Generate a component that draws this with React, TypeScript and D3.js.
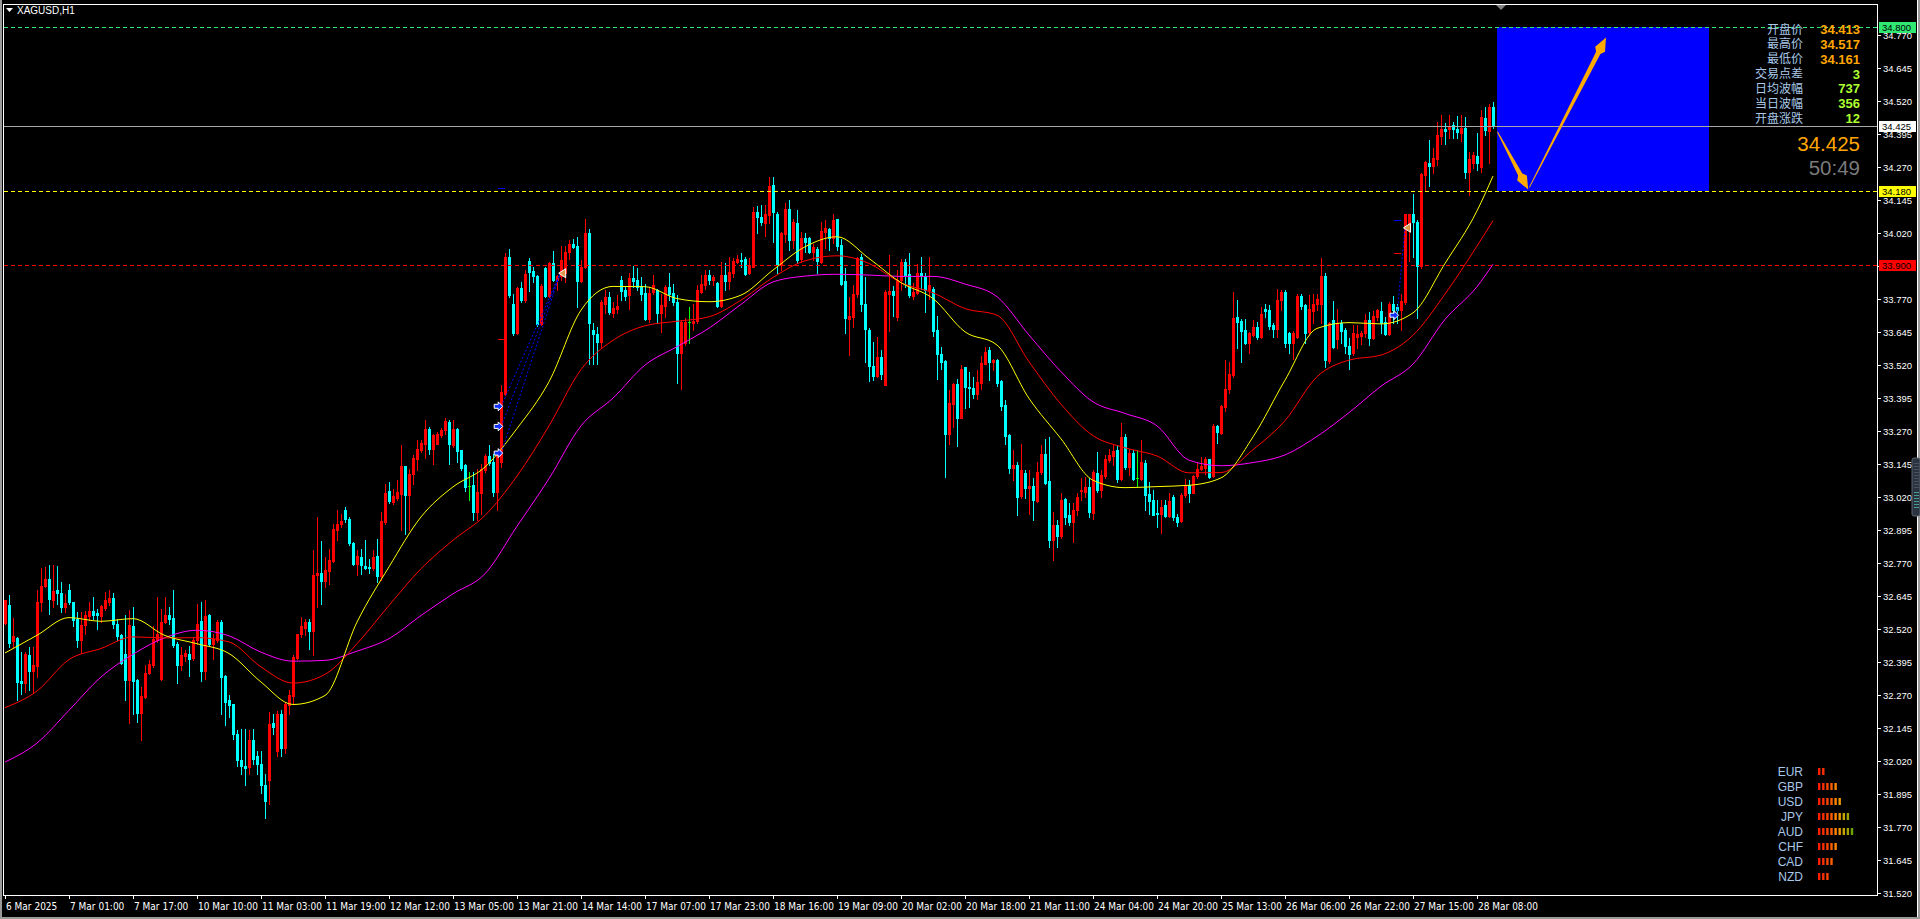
import React from "react";
import * as d3 from "d3";

// ---------- OHLC (XAGUSD H1), bar 0 .. 372 ----------
const opens = [
32.544,32.611,32.476,32.488,32.323,32.317,32.421,32.362,32.380,32.622,
32.685,32.712,32.630,32.667,32.657,32.604,32.668,32.622,32.560,32.478,
32.535,32.569,32.588,32.580,32.569,32.601,32.623,32.637,32.541,32.497,
32.428,32.329,32.531,32.327,32.203,32.263,32.354,32.383,32.478,32.333,
32.548,32.573,32.561,32.463,32.383,32.419,32.425,32.410,32.478,32.550,
32.362,32.573,32.463,32.481,32.546,32.342,32.251,32.236,32.124,32.026,
32.003,31.998,32.102,32.039,32.008,31.930,31.950,32.165,32.060,32.200,
32.070,32.232,32.266,32.412,32.500,32.526,32.547,32.513,32.724,32.733,
32.702,32.740,32.778,32.897,32.917,32.973,32.939,32.846,32.768,32.793,
32.759,32.756,32.753,32.796,32.720,32.926,33.043,33.000,33.018,33.033,
33.137,33.027,33.107,33.166,33.198,33.223,33.277,33.204,33.223,33.254,
33.273,33.305,33.217,33.277,33.198,33.141,33.062,33.065,32.964,33.036,
33.122,33.175,33.153,33.040,33.153,33.412,33.928,33.751,33.640,33.813,
33.766,33.914,33.876,33.857,33.675,33.886,33.781,33.907,33.842,33.857,
33.867,33.949,33.978,33.971,33.839,33.890,34.019,33.652,33.637,33.608,
33.753,33.779,33.718,33.731,33.842,33.804,33.785,33.848,33.844,33.819,
33.794,33.693,33.798,33.804,33.718,33.743,33.817,33.794,33.760,33.566,
33.602,33.683,33.678,33.687,33.798,33.823,33.861,33.842,33.832,33.745,
33.861,33.839,33.870,33.911,33.918,33.920,33.867,33.892,34.101,34.079,
34.059,34.088,34.202,34.094,33.899,34.016,34.113,33.993,34.057,33.920,
34.003,34.000,33.949,33.958,33.911,34.025,34.034,34.003,34.072,33.974,
33.838,33.693,33.703,33.791,33.928,33.753,33.652,33.516,33.478,33.549,
33.444,33.791,33.801,33.703,33.842,33.911,33.865,33.781,33.794,33.867,
33.857,33.806,33.810,33.652,33.561,33.535,33.258,33.374,33.448,33.321,
33.511,33.438,33.435,33.410,33.453,33.526,33.577,33.532,33.539,33.460,
33.368,33.255,33.132,33.141,33.024,33.112,33.053,33.061,33.006,33.116,
33.185,33.082,32.859,32.914,32.872,33.013,32.952,32.926,32.971,33.043,
33.040,33.059,32.960,33.112,33.049,33.101,33.160,33.176,33.198,33.088,
33.248,33.135,33.188,33.093,33.087,33.150,33.031,33.011,32.960,32.955,
32.989,32.948,33.021,32.945,32.930,33.027,33.065,33.037,33.099,33.125,
33.132,33.163,33.099,33.289,33.264,33.362,33.428,33.482,33.701,33.688,
33.653,33.602,33.634,33.663,33.627,33.734,33.728,33.671,33.655,33.768,
33.797,33.642,33.602,33.627,33.781,33.747,33.646,33.726,33.751,33.753,
33.857,33.536,33.690,33.617,33.680,33.652,33.592,33.564,33.627,33.630,
33.640,33.690,33.621,33.703,33.726,33.684,33.637,33.753,33.741,33.728,
33.760,34.046,34.092,34.063,33.895,34.240,34.286,34.274,34.299,34.387,
34.413,34.413,34.429,34.413,34.400,34.416,34.252,34.286,34.312,34.271,
34.454,34.408,34.496];

const highs = [
32.632,32.649,32.564,32.490,32.434,32.434,32.453,32.453,32.668,32.750,
32.756,32.762,32.762,32.758,32.699,32.655,32.693,32.623,32.585,32.585,
32.588,32.623,32.642,32.598,32.611,32.661,32.668,32.657,32.560,32.503,
32.573,32.592,32.604,32.330,32.301,32.383,32.402,32.531,32.642,32.598,
32.642,32.604,32.668,32.472,32.453,32.440,32.455,32.491,32.617,32.622,
32.630,32.577,32.503,32.554,32.554,32.345,32.270,32.238,32.140,32.143,
32.143,32.137,32.143,32.058,32.060,31.970,32.206,32.200,32.210,32.213,
32.240,32.288,32.421,32.503,32.566,32.560,32.560,32.819,32.945,32.853,
32.793,32.825,32.920,32.973,32.958,32.983,32.945,32.850,32.819,32.825,
32.856,32.787,32.819,32.863,32.964,33.071,33.078,33.052,33.084,33.216,
33.137,33.128,33.179,33.238,33.235,33.314,33.286,33.261,33.267,33.283,
33.320,33.314,33.311,33.280,33.200,33.147,33.115,33.115,33.128,33.147,
33.185,33.216,33.185,33.191,33.444,33.943,33.958,33.791,33.817,33.835,
33.880,33.924,33.890,33.861,33.829,33.892,33.911,33.953,33.861,33.971,
33.971,33.993,33.996,34.006,33.918,34.075,34.034,33.678,33.665,33.766,
33.804,33.798,33.760,33.785,33.857,33.817,33.867,33.895,33.886,33.854,
33.829,33.817,33.861,33.810,33.791,33.823,33.867,33.829,33.785,33.690,
33.697,33.741,33.753,33.823,33.861,33.880,33.880,33.861,33.835,33.911,
33.905,33.928,33.924,33.937,33.943,33.930,33.924,34.120,34.122,34.126,
34.126,34.231,34.233,34.101,34.025,34.135,34.147,34.075,34.107,34.025,
34.019,34.006,33.978,33.966,34.063,34.069,34.038,34.092,34.075,33.999,
33.886,33.779,33.823,33.930,33.940,33.854,33.659,33.608,33.627,33.577,
33.806,33.937,33.819,33.880,33.920,33.921,33.943,33.832,33.902,33.930,
33.867,33.928,33.817,33.705,33.589,33.539,33.425,33.453,33.469,33.520,
33.513,33.494,33.475,33.503,33.554,33.587,33.589,33.545,33.545,33.463,
33.387,33.261,33.198,33.154,33.223,33.122,33.122,33.091,33.154,33.217,
33.242,33.248,32.964,32.933,33.034,33.015,32.996,32.996,33.034,33.091,
33.097,33.091,33.122,33.192,33.122,33.179,33.204,33.217,33.217,33.299,
33.258,33.204,33.200,33.200,33.236,33.160,33.078,33.046,33.008,33.008,
33.008,33.034,33.027,32.958,33.034,33.087,33.084,33.103,33.150,33.173,
33.173,33.166,33.296,33.293,33.368,33.541,33.533,33.798,33.766,33.693,
33.693,33.646,33.690,33.684,33.741,33.753,33.747,33.678,33.810,33.806,
33.804,33.646,33.650,33.789,33.789,33.753,33.785,33.789,33.789,33.924,
33.867,33.684,33.763,33.734,33.690,33.659,33.621,33.671,33.671,33.650,
33.713,33.722,33.726,33.734,33.760,33.703,33.760,33.781,33.753,33.791,
34.094,34.094,34.168,34.069,34.246,34.294,34.372,34.341,34.442,34.467,
34.438,34.467,34.442,34.463,34.467,34.461,34.328,34.328,34.400,34.486,
34.496,34.509,34.517];

const lows = [
32.540,32.453,32.447,32.253,32.276,32.282,32.289,32.279,32.339,32.589,
32.680,32.579,32.604,32.617,32.585,32.585,32.614,32.531,32.453,32.430,
32.500,32.554,32.558,32.522,32.548,32.592,32.611,32.526,32.478,32.390,
32.251,32.165,32.200,32.169,32.102,32.260,32.350,32.377,32.470,32.329,
32.543,32.541,32.453,32.316,32.364,32.400,32.342,32.402,32.465,32.324,
32.333,32.459,32.409,32.472,32.200,32.156,32.188,32.105,32.001,31.973,
31.929,31.973,32.011,31.973,31.900,31.804,31.860,32.124,32.040,32.040,
32.050,32.200,32.238,32.408,32.490,32.497,32.446,32.421,32.604,32.617,
32.680,32.692,32.775,32.859,32.907,32.926,32.838,32.762,32.724,32.730,
32.749,32.733,32.743,32.699,32.705,32.920,32.998,32.993,33.008,32.894,
32.882,32.894,33.071,33.122,33.191,33.170,33.185,33.147,33.220,33.248,
33.261,33.147,33.210,33.153,33.122,33.043,33.008,32.932,32.932,32.958,
33.115,33.141,33.023,32.973,33.134,33.406,33.779,33.633,33.637,33.760,
33.760,33.801,33.835,33.668,33.671,33.779,33.779,33.839,33.806,33.842,
33.836,33.920,33.962,33.741,33.835,33.886,33.526,33.526,33.526,33.583,
33.716,33.713,33.703,33.716,33.766,33.766,33.734,33.817,33.804,33.766,
33.690,33.684,33.791,33.678,33.646,33.703,33.766,33.747,33.453,33.428,
33.596,33.604,33.652,33.678,33.794,33.810,33.829,33.823,33.741,33.741,
33.804,33.810,33.854,33.905,33.892,33.861,33.865,33.890,34.019,34.050,
34.009,34.057,33.987,33.867,33.880,33.987,33.955,33.962,33.905,33.911,
33.949,33.943,33.918,33.867,33.905,33.962,33.955,33.981,33.955,33.823,
33.642,33.558,33.665,33.779,33.726,33.532,33.460,33.463,33.475,33.469,
33.443,33.650,33.705,33.690,33.806,33.817,33.779,33.769,33.789,33.810,
33.722,33.772,33.630,33.469,33.507,33.097,33.223,33.286,33.213,33.318,
33.359,33.362,33.397,33.390,33.431,33.524,33.463,33.503,33.440,33.349,
33.223,33.112,33.084,32.952,33.015,33.015,32.958,32.933,33.002,33.109,
33.069,32.832,32.781,32.832,32.867,32.920,32.914,32.851,32.952,33.008,
33.021,32.945,32.939,33.040,33.021,33.094,33.154,33.141,33.078,33.084,
33.125,33.103,33.084,33.061,33.084,32.971,32.955,32.952,32.907,32.885,
32.943,32.943,32.935,32.910,32.926,33.021,33.002,33.034,33.094,33.122,
33.109,33.094,33.097,33.226,33.261,33.347,33.415,33.476,33.583,33.533,
33.600,33.564,33.630,33.617,33.621,33.703,33.655,33.627,33.627,33.728,
33.589,33.564,33.545,33.621,33.734,33.602,33.633,33.678,33.728,33.678,
33.513,33.528,33.583,33.583,33.604,33.564,33.507,33.558,33.583,33.599,
33.627,33.595,33.617,33.690,33.640,33.633,33.633,33.680,33.680,33.652,
33.753,33.915,33.930,33.697,33.886,34.183,34.198,34.246,34.277,34.357,
34.357,34.379,34.379,34.379,34.370,34.227,34.164,34.265,34.259,34.252,
34.391,34.284,34.416];

const closes = [
32.630,32.468,32.493,32.320,32.317,32.428,32.362,32.383,32.622,32.685,
32.712,32.633,32.664,32.657,32.604,32.620,32.622,32.554,32.478,32.535,
32.573,32.589,32.573,32.573,32.607,32.630,32.640,32.541,32.493,32.392,
32.329,32.535,32.324,32.203,32.266,32.356,32.387,32.484,32.503,32.546,
32.573,32.558,32.459,32.383,32.421,32.430,32.407,32.481,32.541,32.361,
32.569,32.463,32.484,32.546,32.339,32.243,32.232,32.123,32.023,32.003,
31.993,32.099,32.030,32.008,31.930,31.870,32.162,32.150,32.200,32.070,
32.238,32.269,32.414,32.500,32.531,32.547,32.513,32.724,32.733,32.702,
32.743,32.781,32.898,32.917,32.928,32.939,32.846,32.768,32.796,32.762,
32.753,32.753,32.793,32.720,32.928,33.036,33.006,33.023,33.040,33.137,
33.027,33.109,33.168,33.201,33.225,33.277,33.201,33.254,33.261,33.276,
33.307,33.223,33.277,33.195,33.132,33.059,33.062,32.964,33.040,33.128,
33.175,33.150,33.040,33.185,33.419,33.930,33.785,33.640,33.813,33.766,
33.865,33.873,33.857,33.675,33.819,33.781,33.907,33.842,33.857,33.918,
33.949,33.978,33.968,33.839,33.890,34.019,33.680,33.637,33.608,33.760,
33.779,33.722,33.737,33.743,33.801,33.781,33.848,33.839,33.814,33.791,
33.693,33.794,33.823,33.718,33.747,33.817,33.791,33.760,33.566,33.684,
33.684,33.683,33.687,33.804,33.827,33.861,33.842,33.852,33.745,33.861,
33.839,33.871,33.915,33.920,33.915,33.865,33.899,34.101,34.079,34.062,
34.092,34.198,34.101,33.899,34.021,34.113,33.993,34.063,33.918,34.002,
33.987,33.949,33.966,33.915,34.029,34.038,34.003,34.069,33.971,33.827,
33.699,33.705,33.791,33.924,33.751,33.656,33.516,33.478,33.549,33.488,
33.798,33.801,33.785,33.842,33.911,33.861,33.785,33.798,33.867,33.861,
33.806,33.823,33.650,33.561,33.532,33.258,33.377,33.448,33.321,33.507,
33.438,33.433,33.410,33.457,33.529,33.570,33.532,33.539,33.453,33.364,
33.251,33.132,33.141,33.021,33.122,33.053,33.061,33.008,33.116,33.185,
33.074,32.859,32.914,32.872,33.011,32.943,32.926,32.973,33.021,33.046,
33.059,32.964,33.116,33.046,33.103,33.166,33.179,33.195,33.088,33.246,
33.135,33.188,33.088,33.093,33.154,33.027,33.006,32.952,32.955,32.983,
32.948,33.006,32.943,32.926,33.027,33.065,33.037,33.099,33.128,33.137,
33.163,33.097,33.289,33.267,33.365,33.428,33.485,33.697,33.684,33.650,
33.605,33.640,33.663,33.627,33.713,33.726,33.667,33.655,33.768,33.797,
33.604,33.602,33.642,33.781,33.743,33.640,33.734,33.753,33.772,33.857,
33.541,33.680,33.589,33.678,33.650,33.592,33.561,33.640,33.637,33.640,
33.690,33.621,33.705,33.728,33.678,33.637,33.753,33.728,33.728,33.763,
34.092,34.092,34.063,33.895,34.243,34.290,34.274,34.303,34.391,34.413,
34.408,34.425,34.413,34.404,34.416,34.252,34.299,34.315,34.284,34.461,
34.410,34.496,34.425];

// ---------- moving averages, read every 8 bars ----------
const maSampleBars = [0,8,16,24,32,40,48,56,64,72,80,88,96,104,112,120,128,136,144,152,160,168,176,184,192,200,208,216,224,232,240,248,256,264,272,280,288,296,304,312,320,328,336,344,352,360,368,372];
const maFast = [32.430,32.497,32.564,32.550,32.560,32.496,32.465,32.428,32.320,32.235,32.269,32.547,32.756,32.945,33.059,33.134,33.280,33.457,33.728,33.818,33.817,33.772,33.760,33.785,33.880,33.968,34.006,33.924,33.832,33.772,33.646,33.596,33.394,33.241,33.084,33.056,33.060,33.065,33.093,33.248,33.463,33.659,33.681,33.676,33.718,33.905,34.104,34.236];
const maMid = [32.223,32.286,32.405,32.447,32.491,32.487,32.488,32.472,32.377,32.316,32.349,32.465,32.610,32.749,32.857,32.951,33.100,33.290,33.503,33.614,33.669,33.686,33.703,33.766,33.852,33.915,33.934,33.905,33.832,33.794,33.734,33.709,33.533,33.372,33.253,33.207,33.176,33.112,33.113,33.200,33.310,33.476,33.539,33.558,33.633,33.789,33.971,34.067];
const maSlow = [32.017,32.089,32.213,32.339,32.425,32.488,32.516,32.495,32.433,32.399,32.402,32.437,32.484,32.572,32.654,32.730,32.910,33.090,33.290,33.395,33.520,33.590,33.660,33.750,33.835,33.857,33.864,33.861,33.856,33.856,33.827,33.779,33.634,33.495,33.381,33.337,33.290,33.160,33.139,33.151,33.180,33.250,33.340,33.440,33.524,33.693,33.817,33.902];

// ---------- axes ----------
const timeLabelBars = [0,16,32,48,64,80,96,112,128,144,160,176,192,208,224,240,256,272,288,304,320,336,352,368];
const timeLabels = ["6 Mar 2025","7 Mar 01:00","7 Mar 17:00","10 Mar 10:00","11 Mar 03:00","11 Mar 19:00","12 Mar 12:00","13 Mar 05:00","13 Mar 21:00","14 Mar 14:00","17 Mar 07:00","17 Mar 23:00","18 Mar 16:00","19 Mar 09:00","20 Mar 02:00","20 Mar 18:00","21 Mar 11:00","24 Mar 04:00","24 Mar 20:00","25 Mar 13:00","26 Mar 06:00","26 Mar 22:00","27 Mar 15:00","28 Mar 08:00"];
const priceTicks = ["31.520","31.645","31.770","31.895","32.020","32.145","32.270","32.395","32.520","32.645","32.770","32.895","33.020","33.145","33.270","33.395","33.520","33.645","33.770","33.895","34.020","34.145","34.270","34.395","34.520","34.645","34.770"];

// ---------- levels & annotations ----------
const levelPrices = [34.8, 34.18, 33.9];
const levelLabels = ["34.800", "34.180", "33.900"];
const levelColors = ["#2EE872", "#FFFF00", "#FF0000"];
const bidPrice = 34.425;
const bidLabel = "34.425";

const zoneBars = [373, 426];
const zonePrices = [34.8, 34.18];
const forecastBars = [373.1, 380.8, 381.1, 400.25];
const forecastPrices = [34.404, 34.185, 34.193, 34.76];

const buyBars = [123.3, 123.3, 123.3, 347.25];
const buyPrices = [33.364, 33.288, 33.187, 33.709];
const buyCloseIdx = [0, 0, 0, 1];
const closeBars = [139.3, 350.5];
const closePrices = [33.868, 34.04];
const tpPrices = [34.19, 34.069];
const slPrices = [33.618, 33.944];
const stopBars = [123.3, 347.25];

const infoLabels = ["开盘价", "最高价", "最低价", "交易点差", "日均波幅", "当日波幅", "开盘涨跌"];
const infoValues = ["34.413", "34.517", "34.161", "3", "737", "356", "12"];
const bigPrice = "34.425";
const countdown = "50:49";

const currencies = ["EUR", "GBP", "USD", "JPY", "AUD", "CHF", "CAD", "NZD"];
const strengths = [2, 5, 6, 8, 9, 5, 4, 3];
const strengthColors = ["#FF1E00", "#FF2E00", "#FF4400", "#FF5E00", "#FF8400", "#EE9A00", "#C8A000", "#A0A000", "#6EA400"];

const SANS = "'Liberation Sans', Arial, sans-serif";
const NARROW = "'Liberation Sans Narrow', 'DejaVu Sans Condensed', 'Liberation Sans', Arial, sans-serif";
const CJK = "'Noto Sans CJK SC', 'Noto Sans', sans-serif";

function taperedArrow(x1: number, y1: number, x2: number, y2: number) {
  const dx = x2 - x1, dy = y2 - y1, L = Math.hypot(dx, dy);
  const ux = dx / L, uy = dy / L, px = -uy, py = ux;
  const headLen = 17, headW = 5.5, shaftW = 2.4, startW = 0.5;
  const bx = x2 - ux * headLen, by = y2 - uy * headLen;
  const nx = x2 - ux * (headLen - 4), ny = y2 - uy * (headLen - 4);
  const pts = [
    [x1 + px * startW, y1 + py * startW],
    [bx + px * shaftW, by + py * shaftW],
    [nx + px * headW, ny + py * headW],
    [x2, y2],
    [nx - px * headW, ny - py * headW],
    [bx - px * shaftW, by - py * shaftW],
    [x1 - px * startW, y1 - py * startW],
  ];
  return pts.map((p) => p.map((v) => v.toFixed(1)).join(",")).join(" ");
}

export default function App() {
  const W = 1920, H = 919;
  const plotR = 1877;
  const plotB = 895;
  const x = d3.scaleLinear().domain([0, 372]).range([5, 1493]);
  const y = d3.scaleLinear().domain([31.52, 34.77]).range([893.3, 35]);
  const upC = "#FF0000", dnC = "#00FFFF", dojiC = "#00FF00";
  const ry = (p: number) => Math.round(y(p));

  const candles = closes.map((c, i) => {
    const o = opens[i], h = highs[i], l = lows[i];
    const cx = Math.round(x(i));
    const col = c > o ? upC : c < o ? dnC : dojiC;
    const yt = ry(Math.max(o, c)), yb = ry(Math.min(o, c));
    const yh = ry(h), yl = ry(l);
    return (
      <g key={i} fill={col}>
        <rect x={cx} y={yh} width={1} height={Math.max(1, yl - yh + 1)} />
        <rect x={cx - 1} y={yt} width={3} height={Math.max(1, yb - yt + 1)} />
      </g>
    );
  });

  const maLine = d3
    .line<number>()
    .x((_, k) => x(maSampleBars[k]))
    .y((v) => y(v))
    .curve(d3.curveMonotoneX);

  const zx0 = Math.round(x(zoneBars[0])), zx1 = Math.round(x(zoneBars[1]));
  const zy0 = ry(zonePrices[0]), zy1 = ry(zonePrices[1]);

  const infoY = (k: number) => 29 + 14.9 * k;

  return (
    <div style={{ position: "absolute", left: 0, top: 0, width: W, height: H, background: "#000", overflow: "hidden" }}>
      <svg width={W} height={H} style={{ display: "block" }}>
        <defs>
          <clipPath id="plot">
            <rect x={4} y={5} width={plotR - 4} height={plotB - 5} />
          </clipPath>
        </defs>
        <rect x={0} y={0} width={W} height={H} fill="#000" />

        <g clipPath="url(#plot)">
          {/* forecast zone */}
          <rect x={zx0} y={zy0} width={zx1 - zx0} height={zy1 - zy0} fill="#0000FF" />

          {/* candles */}
          <g shapeRendering="crispEdges">{candles}</g>

          {/* moving averages */}
          <path d={maLine(maSlow) || ""} fill="none" stroke="#FF00FF" strokeWidth={1} />
          <path d={maLine(maMid) || ""} fill="none" stroke="#FF0000" strokeWidth={1} />
          <path d={maLine(maFast) || ""} fill="none" stroke="#FFFF00" strokeWidth={1} />

          {/* horizontal levels */}
          {levelPrices.map((p, k) => (
            <line key={k} x1={4} x2={plotR} y1={ry(p) + 0.5} y2={ry(p) + 0.5} stroke={levelColors[k]} strokeWidth={1} strokeDasharray="4,3" shapeRendering="crispEdges" />
          ))}
          <line x1={4} x2={plotR} y1={ry(bidPrice) + 0.5} y2={ry(bidPrice) + 0.5} stroke="#A8A8A8" strokeWidth={1} shapeRendering="crispEdges" />

          {/* trade history */}
          {buyBars.map((b, k) => {
            const j = buyCloseIdx[k];
            return (
              <line key={"tl" + k} x1={x(b) + 3} y1={y(buyPrices[k])} x2={x(closeBars[j]) - 2} y2={y(closePrices[j])} stroke="#0000FF" strokeWidth={1} strokeDasharray="2,2" />
            );
          })}
          {stopBars.map((b, k) => (
            <g key={"st" + k} shapeRendering="crispEdges">
              <line x1={x(b)} x2={x(b) + 7} y1={ry(tpPrices[k]) + 0.5} y2={ry(tpPrices[k]) + 0.5} stroke="#0000FF" strokeWidth={1} />
              <line x1={x(b)} x2={x(b) + 7} y1={ry(slPrices[k]) + 0.5} y2={ry(slPrices[k]) + 0.5} stroke="#FF0000" strokeWidth={1} />
            </g>
          ))}
          {buyBars.map((b, k) => {
            const cx = x(b), cy = y(buyPrices[k]);
            const pts = [[-4, -2], [0, -2], [0, -4.5], [4.5, 0], [0, 4.5], [0, 2], [-4, 2]]
              .map(([a, c]) => `${(cx + a).toFixed(1)},${(cy + c).toFixed(1)}`)
              .join(" ");
            return <polygon key={"ba" + k} points={pts} fill="#1030FF" stroke="#FFFFFF" strokeWidth={1} />;
          })}
          {closeBars.map((b, k) => {
            const cx = x(b), cy = y(closePrices[k]);
            const pts = [[3.5, -4.5], [-3.5, 0], [3.5, 4.5]]
              .map(([a, c]) => `${(cx + a).toFixed(1)},${(cy + c).toFixed(1)}`)
              .join(" ");
            return <polygon key={"cm" + k} points={pts} fill="#D89A48" stroke="#FFFFFF" strokeWidth={1} />;
          })}

          {/* forecast arrows */}
          <polygon points={taperedArrow(x(forecastBars[0]), y(forecastPrices[0]), x(forecastBars[1]), y(forecastPrices[1]))} fill="#FFAA00" />
          <polygon points={taperedArrow(x(forecastBars[2]), y(forecastPrices[2]), x(forecastBars[3]), y(forecastPrices[3]))} fill="#FFAA00" />
        </g>

        {/* frame */}
        <rect x={3.5} y={4.5} width={plotR - 3.5 + 0.5} height={plotB - 4.5 + 0.5} fill="none" stroke="#FFFFFF" strokeWidth={1} shapeRendering="crispEdges" />
        <rect x={0} y={0} width={2} height={H} fill="#9A9A9A" />
        <rect x={1917} y={0} width={1} height={H} fill="#FFFFFF" />
        <rect x={1918} y={0} width={2} height={H} fill="#9A9A9A" />
        <rect x={0} y={917} width={W} height={2} fill="#9A9A9A" />

        {/* title */}
        <polygon points="6,8 13,8 9.5,12" fill="#FFFFFF" />
        <text x={17} y={14} fill="#FFFFFF" fontFamily={SANS} fontSize={10}>XAGUSD,H1</text>
        {/* chart shift marker */}
        <polygon points={`${x(zoneBars[0]) - 1},5 ${x(zoneBars[0]) + 9},5 ${x(zoneBars[0]) + 4},10`} fill="#808080" />

        {/* price axis */}
        {priceTicks.map((t) => {
          const yy = ry(+t);
          return (
            <g key={t}>
              <line x1={plotR} x2={plotR + 4} y1={yy + 0.5} y2={yy + 0.5} stroke="#FFFFFF" shapeRendering="crispEdges" />
              <text x={1883} y={yy + 3.5} fill="#FFFFFF" fontFamily={SANS} fontSize={9.5}>{t}</text>
            </g>
          );
        })}
        {levelPrices.map((p, k) => (
          <g key={"lb" + k}>
            <rect x={1879} y={ry(p) - 5} width={37} height={11} fill={levelColors[k]} />
            <text x={1882} y={ry(p) + 3.5} fill="#000000" fontFamily={SANS} fontSize={9.5}>{levelLabels[k]}</text>
          </g>
        ))}
        <rect x={1879} y={ry(bidPrice) - 5} width={37} height={11} fill="#FFFFFF" />
        <text x={1882} y={ry(bidPrice) + 3.5} fill="#000000" fontFamily={SANS} fontSize={9.5}>{bidLabel}</text>

        {/* time axis */}
        {timeLabelBars.map((b, k) => {
          const tx = Math.round(x(b));
          return (
            <g key={"t" + k}>
              <line x1={tx + 0.5} x2={tx + 0.5} y1={plotB} y2={plotB + 4} stroke="#FFFFFF" shapeRendering="crispEdges" />
              <text x={tx + 1} y={909.5} fill="#FFFFFF" fontFamily={NARROW} fontSize={10} style={{ fontStretch: "condensed" }}>{timeLabels[k]}</text>
            </g>
          );
        })}

        {/* info panel */}
        {infoLabels.map((s, k) => (
          <text key={"il" + k} x={1803} y={infoY(k) + 4.5} textAnchor="end" fill="#A9C8E8" fontFamily={CJK} fontSize={12}>{s}</text>
        ))}
        {infoValues.map((s, k) => (
          <text key={"iv" + k} x={1860} y={infoY(k) + 4.8} textAnchor="end" fill={k < 3 ? "#FFA500" : "#ADFF2F"} fontFamily={SANS} fontWeight="bold" fontSize={13}>{s}</text>
        ))}
        <text x={1860} y={151} textAnchor="end" fill="#FFA500" fontFamily={SANS} fontSize={20.5}>{bigPrice}</text>
        <text x={1860} y={174.5} textAnchor="end" fill="#7A7A7A" fontFamily={SANS} fontSize={20.5}>{countdown}</text>

        {/* currency strength */}
        {currencies.map((c, k) => {
          const cy = 771.5 + 15 * k;
          return (
            <g key={c}>
              <text x={1803} y={cy + 4.5} textAnchor="end" fill="#A9C8E8" fontFamily={SANS} fontSize={12}>{c}</text>
              {d3.range(strengths[k]).map((j) => (
                <rect key={j} x={1818 + 4.1 * j} y={cy - 3.5} width={2.4} height={7} fill={strengthColors[j]} />
              ))}
            </g>
          );
        })}

        {/* side widget */}
        <rect x={1912} y={458} width={8} height={58} rx={2} fill="#2C3340" stroke="#5A6270" />
        {d3.range(9).map((j) => (
          <line key={"w" + j} x1={1914} x2={1919} y1={463 + 3 * j + 0.5} y2={463 + 3 * j + 0.5} stroke="#4A5260" />
        ))}
        {d3.range(6).map((j) => (
          <line key={"g" + j} x1={1914} x2={1919} y1={492 + 3 * j + 0.5} y2={492 + 3 * j + 0.5} stroke="#3FA08A" />
        ))}
      </svg>
    </div>
  );
}
